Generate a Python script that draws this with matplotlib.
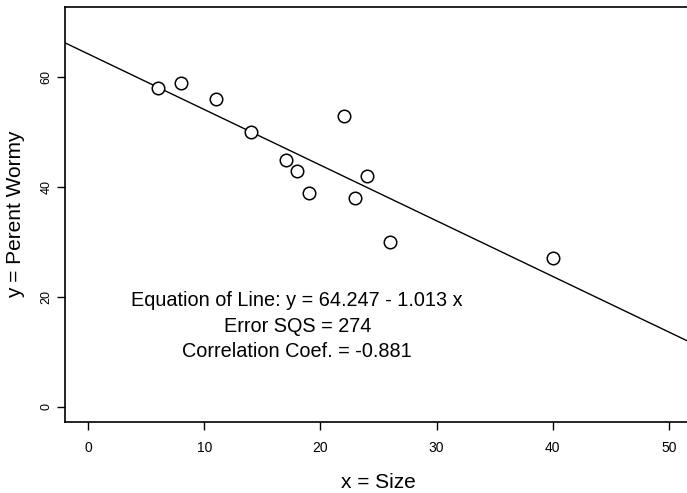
import matplotlib
matplotlib.use("Agg")
import matplotlib.pyplot as plt
import numpy as np

plt.rcParams['font.family'] = ['Liberation Sans', 'DejaVu Sans']

size = [6, 8, 11, 14, 17, 18, 19, 22, 23, 24, 26, 40]
wormy = [58, 59, 56, 50, 45, 43, 39, 53, 38, 42, 30, 27]
intercept = 64.247
slope = -1.013
xticks = [0, 10, 20, 30, 40, 50]
yticks = [0, 20, 40, 60]
annot = ["Equation of Line: y = 64.247 - 1.013 x",
         "Error SQS = 274",
         "Correlation Coef. = -0.881"]

fig = plt.figure(figsize=(6.87, 4.93), dpi=100)
ax = fig.add_axes([65/687, 1 - 422/493, (692 - 65)/687, (422 - 7)/493])
ax.set_xlim(-2, 52)
ax.set_ylim(-2.8, 72.8)

ax.plot(size, wormy, linestyle='none', marker='o', markersize=9,
        markerfacecolor='white', markeredgecolor='black', markeredgewidth=1.1, zorder=3)
ax.axline((0, intercept), slope=slope, color='black', linewidth=1.0)

ax.set_xticks(xticks)
ax.set_yticks(yticks)
ax.tick_params(direction='out', length=6, width=1.0, labelsize=10, pad=8, axis='x')
ax.tick_params(direction='out', length=6, width=1.0, labelsize=9, pad=3, axis='y')
for lab in ax.get_yticklabels():
    lab.set_rotation(90)
    lab.set_va('center')

for side in ['left', 'bottom', 'top']:
    ax.spines[side].set_linewidth(1.2)
ax.spines['right'].set_visible(False)

ax.set_xlabel("x = Size", fontsize=15)
ax.xaxis.set_label_coords(0.5, -0.122)
ax.set_ylabel("y = Perent Wormy", fontsize=15)
ax.yaxis.set_label_coords(-0.063, 0.5)

for t, yv in zip(annot, [19.3, 14.6, 10.1]):
    ax.text(18.0, yv, t, ha='center', va='center', fontsize=14.3)

fig.savefig("out.png", dpi=100)
